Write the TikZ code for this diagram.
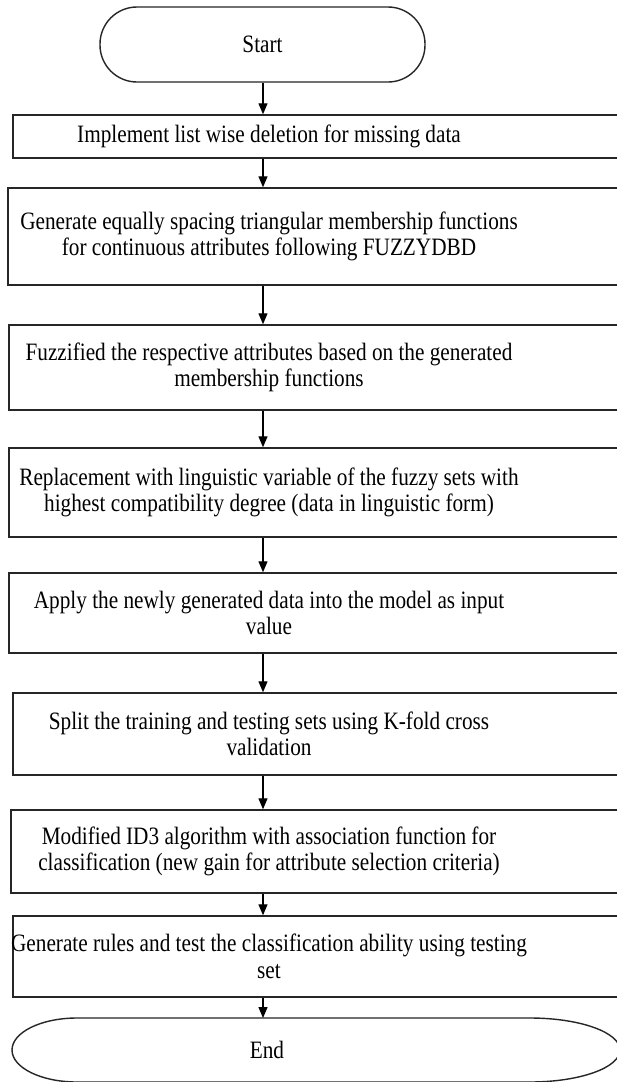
\documentclass[tikz,border=0pt]{standalone}
\usepackage{fontspec}
\setmainfont[FakeStretch=0.85]{Liberation Serif}
\usetikzlibrary{arrows.meta}
\begin{document}
\begin{tikzpicture}[x=1pt,y=1pt,
  boxline/.style={draw=black!85,line width=1.4pt},
  lbl/.style={align=center,inner sep=0pt,font=\fontsize{25}{26.5}\selectfont},
  flow/.style={draw=black,line width=1.3pt,-{Triangle[length=11pt,width=9pt]}}]
\useasboundingbox (0,0) rectangle (617,-1082);
\fill[white] (0,0) rectangle (617,-1082);
% start
\node[boxline,rounded corners=37pt,minimum width=325pt,minimum height=75pt,inner sep=0pt] (start) at (262.5,-44.5) {};
\node[lbl] (startt) at (262.5,-44.5) {Start};
% boxes
\newcommand{\mybox}[5]{%
  \node[boxline,rectangle,inner sep=0pt,minimum width={625-#2},minimum height={#4-#3}] (#1) at ({(625+#2)/2},{-(#3+#4)/2}) {};
  \node[lbl] (#1t) at (269,{-(#3+#4)/2}) {#5};}
\mybox{b1}{13}{115}{158}{Implement list wise deletion for missing data}
\mybox{b2}{8}{188}{285}{Generate equally spacing triangular membership functions\\for continuous attributes following FUZZYDBD}
\mybox{b3}{9}{325}{410}{Fuzzified the respective attributes based on the generated\\membership functions}
\mybox{b4}{9}{448}{537}{Replacement with linguistic variable of the fuzzy sets with\\highest compatibility degree (data in linguistic form)}
\mybox{b5}{9}{573}{653}{Apply the newly generated data into the model as input\\value}
\mybox{b6}{13}{693}{775}{Split the training and testing sets using K-fold cross\\validation}
\mybox{b7}{11}{810}{893}{Modified ID3 algorithm with association function for\\classification (new gain for attribute selection criteria)}
\mybox{b8}{13}{916}{997}{Generate rules and test the classification ability using testing\\set}
% end
\draw[boxline] (77,-1018) -- (530,-1018) arc[start angle=90,end angle=-90,x radius=90,y radius=32]
  -- (77,-1082) arc[start angle=270,end angle=90,x radius=65,y radius=32] -- cycle;
\node[lbl] (endt) at (267,-1050) {End};
\coordinate (endtop) at (263,-1018);
\coordinate (ax) at (263,0);
% arrows
\draw[flow] (start.south -| ax) -- (b1.north -| ax);
\draw[flow] (b1.south -| ax) -- (b2.north -| ax);
\draw[flow] (b2.south -| ax) -- (b3.north -| ax);
\draw[flow] (b3.south -| ax) -- (b4.north -| ax);
\draw[flow] (b4.south -| ax) -- (b5.north -| ax);
\draw[flow] (b5.south -| ax) -- (b6.north -| ax);
\draw[flow] (b6.south -| ax) -- (b7.north -| ax);
\draw[flow] (b7.south -| ax) -- (b8.north -| ax);
\draw[flow] (b8.south -| ax) -- (endtop);
\end{tikzpicture}
\end{document}
